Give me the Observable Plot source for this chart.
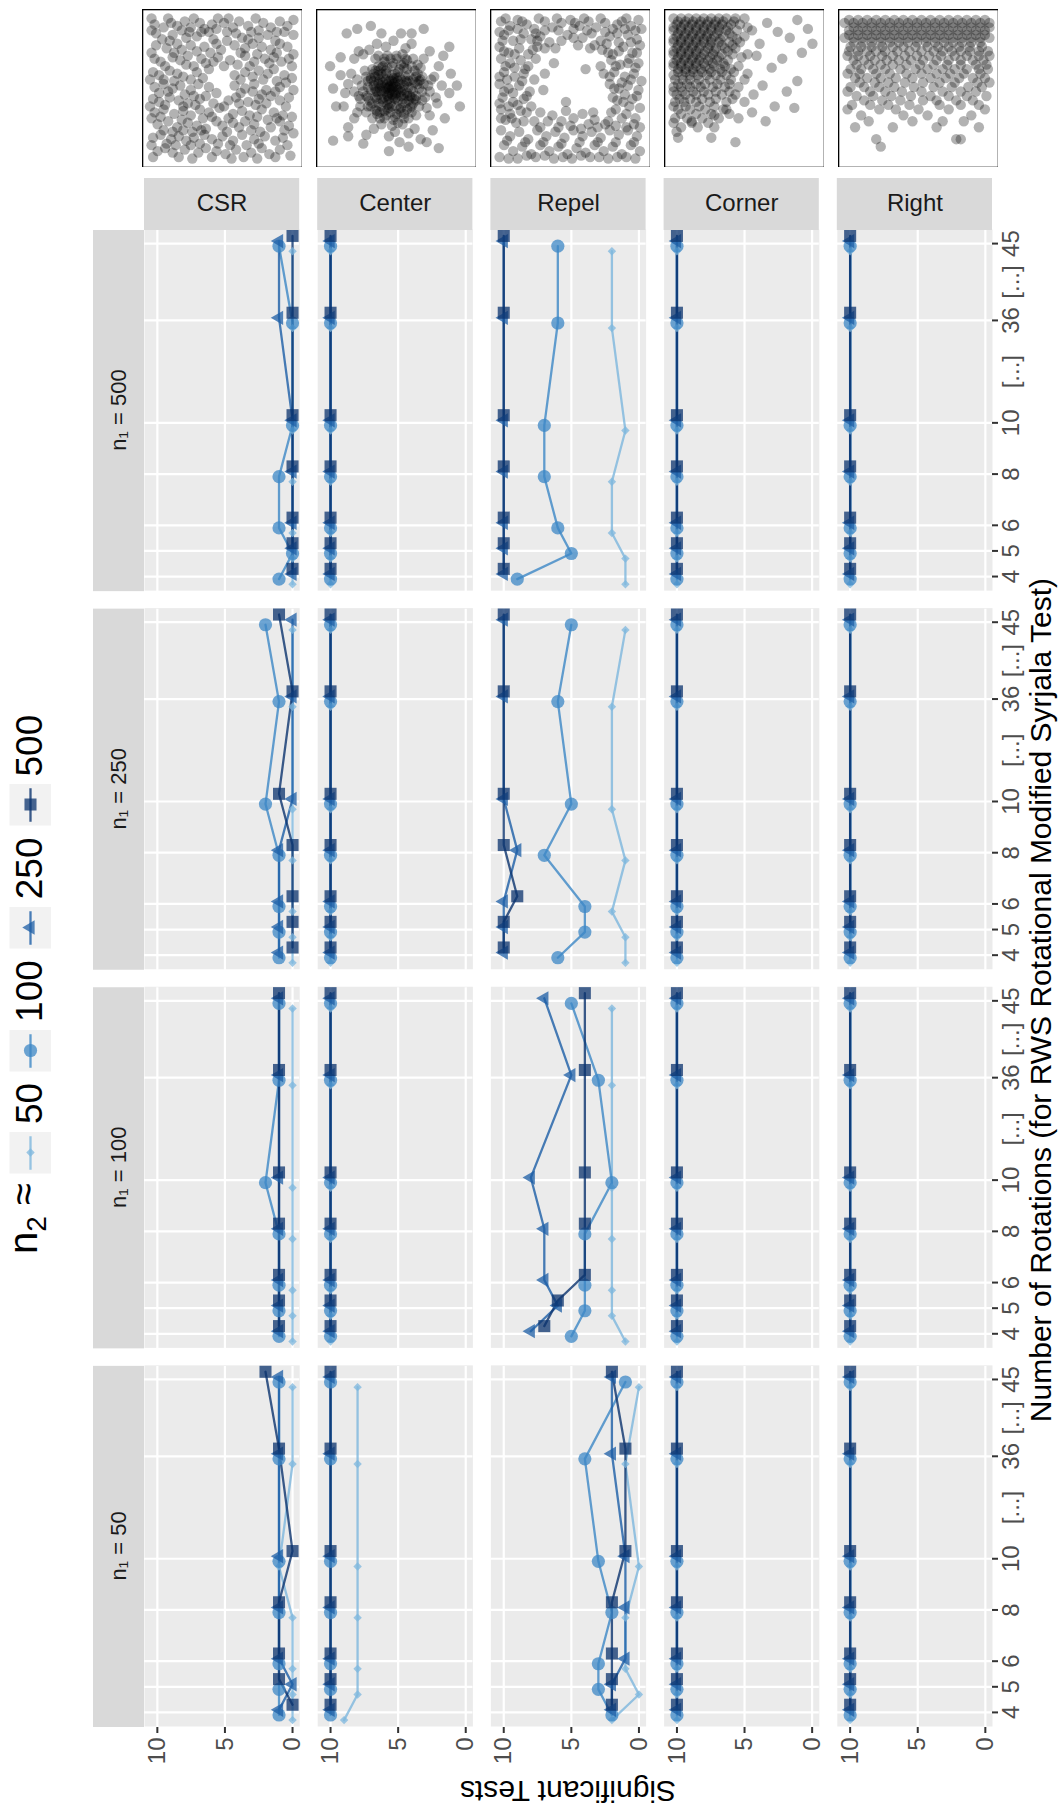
<!DOCTYPE html>
<html><head><meta charset="utf-8">
<script src="https://cdn.jsdelivr.net/npm/d3@7"></script>
<script src="https://cdn.jsdelivr.net/npm/@observablehq/plot@0.6"></script>
<style>
body{margin:0;background:#fff;font-family:"Liberation Sans",Arial,Helvetica,sans-serif;}
#page{position:relative;width:1059px;height:1810px;overflow:hidden;background:#fff;}
#rot{position:absolute;left:0;top:0;width:1810px;height:1059px;transform-origin:0 0;transform:translate(0px,1810px) rotate(-90deg);}
.abs{position:absolute;white-space:nowrap;}
</style></head><body>
<div id="page"><div id="rot"></div></div>
<script>
// ---------------- data ----------------
const rotations = [4, 5, 6, 8, 10, 36, 45];
const rotationLabels = ["4", "5", "6", "8", "10", "36", "45"];
const patterns = ["CSR", "Center", "Repel", "Corner", "Right"];
const n1Levels = [50, 100, 250, 500];
const n2Levels = [50, 100, 250, 500];
// each table: rows = n2 (50, 100, 250, 500), columns = rotations (4,5,6,8,10,36,45)
const CSR_50 = [[0,0,0,0,1,0,0],[1,1,1,1,1,1,1],[1,0,1,1,1,1,1],[0,1,1,1,0,1,2]];
const CSR_100 = [[0,0,0,0,0,0,0],[1,1,1,1,2,1,1],[1,1,1,1,1,1,1],[1,1,1,1,1,1,1]];
const CSR_250 = [[0,0,0,0,0,0,0],[1,1,1,1,2,1,2],[1,1,1,1,0,0,0],[0,0,0,0,1,0,1]];
const CSR_500 = [[0,0,0,0,0,0,0],[1,0,1,1,0,0,1],[0,0,0,0,0,1,1],[0,0,0,0,0,0,0]];
const Center_50 = [[9,8,8,8,8,8,8],[10,10,10,10,10,10,10],[10,10,10,10,10,10,10],[10,10,10,10,10,10,10]];
const Center_100 = [[10,10,10,10,10,10,10],[10,10,10,10,10,10,10],[10,10,10,10,10,10,10],[10,10,10,10,10,10,10]];
const Center_250 = [[10,10,10,10,10,10,10],[10,10,10,10,10,10,10],[10,10,10,10,10,10,10],[10,10,10,10,10,10,10]];
const Center_500 = [[10,10,10,10,10,10,10],[10,10,10,10,10,10,10],[10,10,10,10,10,10,10],[10,10,10,10,10,10,10]];
const Repel_50 = [[2,0,1,1,0,1,0],[2,3,3,2,3,4,1],[2,2,1,1,1,2,2],[2,2,2,2,1,1,2]];
const Repel_100 = [[1,2,2,2,2,2,2],[5,4,4,4,2,3,5],[8,6,7,7,8,5,7],[7,6,4,4,4,4,4]];
const Repel_250 = [[1,1,2,1,2,2,1],[6,4,4,7,5,6,5],[10,10,10,9,10,10,10],[10,10,9,10,10,10,10]];
const Repel_500 = [[1,1,2,2,1,2,2],[9,5,6,7,7,6,6],[10,10,10,10,10,10,10],[10,10,10,10,10,10,10]];
const Corner_50 = [[10,10,10,10,10,10,10],[10,10,10,10,10,10,10],[10,10,10,10,10,10,10],[10,10,10,10,10,10,10]];
const Corner_100 = [[10,10,10,10,10,10,10],[10,10,10,10,10,10,10],[10,10,10,10,10,10,10],[10,10,10,10,10,10,10]];
const Corner_250 = [[10,10,10,10,10,10,10],[10,10,10,10,10,10,10],[10,10,10,10,10,10,10],[10,10,10,10,10,10,10]];
const Corner_500 = [[10,10,10,10,10,10,10],[10,10,10,10,10,10,10],[10,10,10,10,10,10,10],[10,10,10,10,10,10,10]];
const Right_50 = [[10,10,10,10,10,10,10],[10,10,10,10,10,10,10],[10,10,10,10,10,10,10],[10,10,10,10,10,10,10]];
const Right_100 = [[10,10,10,10,10,10,10],[10,10,10,10,10,10,10],[10,10,10,10,10,10,10],[10,10,10,10,10,10,10]];
const Right_250 = [[10,10,10,10,10,10,10],[10,10,10,10,10,10,10],[10,10,10,10,10,10,10],[10,10,10,10,10,10,10]];
const Right_500 = [[10,10,10,10,10,10,10],[10,10,10,10,10,10,10],[10,10,10,10,10,10,10],[10,10,10,10,10,10,10]];

// thumbnail point patterns (unit square 0..100, x right, y down, as seen)
const ptsCSR = [[5,7],[11,9],[16,6],[20,8],[25,5],[29,9],[35,6],[38,10],[43,7],[51,6],[57,9],[61,5],[67,8],[77,6],[82,9],[88,5],[93,8],
[6,13],[17,14],[28,12],[33,15],[41,12],[59,13],[63,16],[69,12],[80,14],[86,12],
[6,21],[13,23],[20,20],[23,24],[29,21],[38,22],[46,20],[49,24],[58,21],[65,23],[70,20],[76,22],[82,24],[88,20],[93,22],
[5,30],[9,32],[17,29],[22,31],[27,28],[36,30],[44,32],[47,29],[55,31],[65,28],[71,32],[78,30],[84,29],[89,32],[94,30],
[4,39],[8,41],[15,38],[20,40],[24,42],[33,39],[41,37],[58,41],[65,39],[70,42],[74,38],[80,40],[84,37],[91,41],
[5,49],[11,47],[17,50],[22,48],[29,51],[34,47],[41,49],[58,48],[65,50],[71,47],[79,51],[88,49],[92,46],
[4,57],[8,59],[15,56],[21,58],[27,60],[35,57],[39,55],[54,58],[59,56],[67,59],[74,57],[82,55],[88,58],[94,56],
[5,66],[11,64],[18,67],[24,65],[29,68],[35,64],[41,66],[48,63],[57,67],[63,65],[68,68],[76,64],[84,66],[90,68],
[7,74],[14,72],[20,76],[27,73],[33,75],[39,77],[46,72],[50,75],[57,73],[61,76],[65,72],[71,74],[82,76],[88,72],[94,75],
[4,83],[9,81],[16,84],[21,82],[26,85],[31,83],[38,81],[43,84],[50,82],[57,85],[63,81],[71,84],[78,82],[85,85],[90,83],
[7,92],[12,90],[17,93],[25,91],[34,93],[39,90],[46,92],[52,94],[59,91],[69,93],[76,90],[81,94],[88,91],
[3,3],[14,3],[31,3],[47,3],[54,3],[72,3],[97,4],[3,11],[23,11],[36,12],[46,10],[53,12],[74,11],[91,12],[97,14],[10,17],[15,18],[26,16],[44,17],[53,18],[67,17],[74,16],[85,18],
[3,26],[18,26],[33,25],[42,26],[62,26],[73,27],[86,26],[97,27],[12,35],[26,34],[31,35],[39,33],[51,35],[60,34],[68,35],[81,33],[96,35],[2,44],[11,44],[18,45],[29,44],[37,43],[62,44],[77,44],[86,45],[96,43],
[8,53],[14,52],[25,54],[31,55],[46,53],[62,53],[70,52],[76,54],[85,52],[97,51],[2,62],[12,61],[24,62],[32,61],[44,60],[51,62],[61,60],[72,61],[79,60],[92,62],[3,70],[9,69],[23,71],[37,70],[43,69],[54,70],[73,69],[80,71],[86,70],[96,69],
[11,78],[17,79],[24,78],[30,79],[36,78],[53,79],[69,78],[75,79],[91,78],[97,80],[3,88],[13,87],[19,88],[29,88],[35,87],[47,87],[55,88],[66,88],[74,87],[93,88],[4,96],[21,96],[30,97],[43,96],[56,97],[64,96],[73,97],[85,96],[95,95]];
const ptsCenter = [[47,50],[44,47],[50,53],[42,52],[52,47],[46,44],[48,56],[40,48],[54,51],[45,53],[49,46],[43,44],[51,58],[38,54],[56,45],[47,41],[44,58],[53,55],[41,42],[57,53],[39,50],[50,43],[46,60],[55,48],[42,56],[48,49],[51,51],[45,49],[49,54],[43,50],
[46,48],[48,52],[44,54],[52,50],[47,45],[50,56],[41,46],[53,44],[45,57],[55,54],[43,40],[49,40],[38,46],[40,57],[54,60],[58,49],[36,50],[50,62],
[46,51],[48,47],[44,50],[50,49],[47,54],[45,45],[51,45],[42,49],[53,52],[49,57],[44,55],[40,52],[52,42],[48,43],[55,57],[41,59],[39,44],[57,46],[47,62],[43,38],[51,39],[59,55],[37,57],[56,60],[45,63],[53,66],[35,48],[61,52],[42,65],[38,41],
[35,45],[36,56],[60,50],[58,58],[40,62],[53,63],[58,41],[44,36],[52,37],[33,51],[62,46],[38,38],[57,64],[46,66],[63,55],[34,60],[41,35],[55,33],[31,45],[64,40],[50,67],[37,65],[60,62],[30,55],[48,33],[65,50],[43,68],[57,37],[36,42],[61,44],
[33,44],[32,58],[63,58],[62,38],[39,70],[55,70],[28,52],[67,52],[46,30],[50,30],[30,42],[66,44],[36,64],[60,66],[42,32],[57,31],[25,55],[71,48],[31,62],[65,62],[48,71],[54,74],[38,28],[64,34],
[35,40],[38,35],[42,30],[50,28],[56,30],[60,35],[63,42],[64,47],[62,57],[59,63],[55,67],[49,69],[42,70],[37,67],[33,62],[31,56],[31,49],[33,43],[36,38],[40,36],
[55,36],[58,45],[60,56],[52,64],[44,64],[38,60],[36,52],[38,47],[34,37],[67,58],[40,40],[56,42],[57,55],[44,61],[37,52],[53,34],[47,35],[65,45],[61,60],[39,66],
[27,48],[26,57],[68,47],[69,56],[34,70],[58,70],[29,38],[66,36],[44,28],[54,27],[24,44],[72,52],[40,74],[63,68],[30,66],[51,73],[70,63],[22,52],[36,30],[61,30],[47,75],[67,42],[26,62],[73,44],
[18,47],[8,50],[15,62],[22,70],[30,81],[45,82],[58,80],[74,78],[77,60],[80,48],[78,35],[72,25],[60,20],[48,18],[37,20],[28,27],[13,29],[25,25],[40,13],[53,13],[60,13],[81,28],[86,40],[85,53],[8,85],[18,76],[18,82],[33,8],[17,13],[66,84],[52,86],
[20,40],[16,53],[24,66],[35,77],[49,79],[62,77],[72,68],[76,56],[75,42],[68,30],[56,23],[43,22],[32,24],[22,30],[13,41],[10,62],[28,87],[58,89],[70,86],[82,70],[90,48],[85,22],[68,10],[24,10],[6,35],[45,92],[78,90],[92,62]];
const ptsRepel = [[4,5],[10,8],[15,4],[21,7],[26,10],[33,5],[38,9],[44,6],[50,4],[56,8],[62,5],[67,9],[73,6],[78,10],[84,5],[90,8],[95,4],
[6,14],[12,18],[19,13],[24,17],[30,15],[36,19],[48,14],[58,16],[64,13],[70,18],[76,15],[82,19],[88,14],[94,17],
[3,22],[9,26],[16,23],[22,27],[28,22],[71,24],[78,27],[85,22],[91,26],[96,21],[40,23],[55,21],
[4,30],[10,33],[17,31],[22,35],[6,39],[13,42],[19,40],[3,47],[9,50],[16,48],[23,52],[5,56],[12,59],[19,57],[4,64],[10,67],[17,65],[24,62],[7,71],[14,73],[26,44],
[77,31],[83,34],[89,30],[95,33],[79,39],[86,42],[92,40],[76,47],[82,50],[88,48],[95,51],[78,56],[85,59],[91,57],[96,63],[80,64],[87,67],[93,70],[75,72],[72,40],
[4,78],[10,82],[16,79],[22,84],[28,78],[34,82],[40,79],[46,83],[52,78],[58,82],[64,79],[70,83],[76,78],[82,81],[88,78],[94,82],
[6,88],[12,92],[18,89],[24,94],[30,88],[36,92],[42,89],[48,94],[54,90],[60,93],[66,88],[72,92],[78,89],[84,94],[90,88],[96,92],
[3,96],[15,97],[27,96],[39,97],[51,97],[63,96],[75,97],[87,96],
[47,59],[47,65],[60,37],[70,35],[32,51],[39,33],[33,40],[30,66],[65,66],[35,72],[62,74],[27,30],[38,68],[44,72],[52,70],[58,67],[66,71],
[7,3],[18,5],[29,3],[41,3],[53,6],[59,3],[70,3],[81,7],[87,3],[93,11],[3,12],[9,11],[15,10],[27,13],[33,11],[42,11],[52,10],[61,11],[73,12],[86,10],[97,10],[5,18],[17,17],[28,18],[44,18],[52,16],[66,21],[74,20],[81,13],[90,19],
[6,25],[13,27],[25,24],[33,23],[63,23],[75,26],[82,25],[94,26],[88,33],[80,35],[93,36],[76,42],[84,46],[90,44],[97,45],[79,50],[86,54],[94,55],[81,58],[89,62],[77,66],[84,70],[92,74],
[7,35],[13,36],[20,37],[3,42],[8,44],[18,45],[6,52],[12,53],[21,55],[3,60],[9,62],[15,61],[21,66],[4,70],[11,70],[19,72],[26,72],[30,76],[42,76],[50,75],[57,77],[68,76],[73,74],[80,75],[87,76],[96,76],
[8,85],[20,86],[32,86],[44,87],[56,86],[68,86],[80,86],[92,86],[9,97],[21,95],[33,95],[45,96],[57,95],[69,96],[81,96],[93,97]];
const rowsCorner = [[3,[3,8,13,18,23,28,33,38,44,50]],[7,[5,10,15,20,25,30,35,41,47]],[11,[3,8,13,18,23,28,33,38,45,55]],[15,[5,10,15,20,25,30,36,42,50]],
[19,[3,8,13,18,23,28,33,40,47]],[23,[5,10,15,20,26,31,37,44]],[27,[3,8,13,18,23,29,35,42,52]],[31,[5,10,15,20,26,32,39]],[35,[3,8,13,18,24,30,37,46]],
[39,[6,11,16,22,28,35,43]],[44,[4,9,14,20,27,34,41,50]],[49,[3,8,14,21,29,37,46]],[54,[5,11,18,26,35,44,56]],[59,[4,10,18,27,38,50]],[64,[6,14,24,36]],
[70,[4,12,22,33,46]],[76,[8,19,30]],[83,[6,28]],
[5,[6,11,16,21,26,31,36,43]],[9,[3,8,13,18,23,28,33,39,52]],[13,[6,11,16,21,26,32,40]],[17,[3,8,13,18,23,28,34,45]],[21,[6,11,16,21,27,35,42]],[25,[3,8,13,18,24,30,39]],
[29,[6,11,16,21,27,33,48]],[33,[3,8,13,18,23,29,36]],[37,[6,11,16,21,27,34,41]],[41,[3,9,14,19,25,31,38]],[47,[6,12,18,24,32,40]],[52,[3,9,16,23,31,40]],
[57,[7,14,22,31,42]],[62,[3,11,20,30]],[67,[8,18,28,40]],[73,[3,15,26]]];
const ptsCornerExtra = [[65,6],[72,12],[85,4],[92,10],[80,16],[60,20],[88,26],[75,30],[68,36],[85,45],[78,52],[62,48],[83,63],[70,62],[55,66],[64,72],[44,86],[5,79],[15,72],[30,68],[38,64],[52,40],[58,28],[95,20]];
const rowsRight = [[4,[4,10,16,22,28,34,40,46,52,58,64,70,76,82,88,94]],[9,[7,13,19,25,31,37,43,49,55,61,67,73,79,85,91,97]],[14,[4,10,16,22,28,34,40,46,52,58,64,70,76,82,88,94]],
[19,[7,13,19,25,31,37,43,49,55,61,67,73,79,85,91]],[25,[4,10,16,22,28,36,44,52,60,66,72,78,84,90,96]],[31,[7,14,21,29,37,45,53,62,70,78,86,93]],
[37,[5,12,20,28,38,48,56,66,74,82,90,96]],[43,[8,16,25,35,46,58,68,77,86,94]],[49,[5,14,24,34,47,60,72,83,92]],[55,[9,20,32,45,58,70,82,95]],
[61,[6,18,30,44,64,78,90]],[68,[12,40,56,85]],[76,[8,33,62,90]],[84,[22,75,78]],[89,[25]],
[6,[1,7,13,19,25,31,37,43,49,55,61,67,73,79,85,91,97]],[11,[4,10,16,22,28,34,40,46,52,58,64,70,76,82,88,94]],[16,[1,7,13,19,25,31,37,43,49,55,61,67,73,79,85,91,97]],
[22,[5,12,19,26,33,40,48,56,63,70,77,84,92]],[28,[3,10,18,26,33,41,49,57,65,74,82,90,97]],[34,[9,17,25,33,42,51,60,69,78,88,95]],[40,[3,11,22,31,42,52,62,71,80,91]],
[46,[11,21,30,41,53,64,74,89,97]],[52,[3,18,28,39,52,66,78,88]],[58,[14,26,38,53,62,75,86]],[64,[3,24,35,50,70,94]],[72,[17,46,66,80]]];

// ---------------- styling / layout ----------------
const n2Colors = ["#7DB7DD", "#3C87C5", "#1C5EA6", "#0B336E"];
const n2Symbols = ["diamond2", "circle", "triangle", "square"];
const n2Radius = {50: 3.8, 100: 6.6, 250: 5.3, 500: 6.8};
const slotOf = {4: 4, 5: 5, 6: 6, 8: 8, 10: 10, 36: 14, 45: 17}; // broken axis layout
const gapSlots = [12, 15.5];
const dodge = {50: -0.3, 100: -0.1, 250: 0.1, 500: 0.3};
const FONT = '"Liberation Sans", Arial, Helvetica, sans-serif';

const W0 = 1810, H0 = 1059;            // un-rotated figure size
const mL = 83, mR = 230, mT = 144, mB = 67;
const gapX = 17.5, gapY = 18, stripTopH = 51, stripRightW = 52;
const panelW = (W0 - mL - mR - 3 * gapX) / 4;
const panelH = (H0 - mT - mB - 4 * gapY) / 5;

const tables = {
  CSR: {50: CSR_50, 100: CSR_100, 250: CSR_250, 500: CSR_500},
  Center: {50: Center_50, 100: Center_100, 250: Center_250, 500: Center_500},
  Repel: {50: Repel_50, 100: Repel_100, 250: Repel_250, 500: Repel_500},
  Corner: {50: Corner_50, 100: Corner_100, 250: Corner_250, 500: Corner_500},
  Right: {50: Right_50, 100: Right_100, 250: Right_250, 500: Right_500}
};
const data = [];
n2Levels.forEach((n2, i) => {
  for (const p of patterns) for (const n1 of n1Levels) {
    rotations.forEach((r, j) => data.push({pattern: p, n1, n2, rotation: r, tests: tables[p][n1][i][j]}));
  }
});
const xPos = d => slotOf[d.rotation] + dodge[d.n2];
const tickSlots = rotations.map(r => slotOf[r]);
const labelOfSlot = new Map(rotations.map((r, i) => [slotOf[r], rotationLabels[i]]));

const chart = Plot.plot({
  width: W0, height: H0,
  marginLeft: mL, marginRight: mR, marginTop: mT, marginBottom: mB,
  style: {fontFamily: FONT, background: "transparent", overflow: "visible"},
  fx: {domain: n1Levels, paddingInner: gapX / (panelW + gapX), paddingOuter: 0, round: false, axis: null, label: null},
  fy: {domain: patterns, paddingInner: gapY / (panelH + gapY), paddingOuter: 0, round: false, axis: null, label: null},
  x: {domain: [3.45, 17.55]},
  y: {domain: [-0.53, 10.95]},
  color: {domain: n2Levels, range: n2Colors},
  symbol: {domain: n2Levels, range: n2Symbols},
  marks: [
    Plot.frame({fill: "#EBEBEB", stroke: "none"}),
    Plot.gridX(tickSlots, {stroke: "#FFFFFF", strokeOpacity: 1, strokeWidth: 2.2}),
    Plot.gridY([0, 5, 10], {stroke: "#FFFFFF", strokeOpacity: 1, strokeWidth: 2.2}),
    Plot.line(data, {fx: "n1", fy: "pattern", x: xPos, y: "tests", z: "n2", stroke: "n2", strokeWidth: 2.3, strokeOpacity: 0.8}),
    ...n2Levels.map(n2 => Plot.dot(data.filter(d => d.n2 === n2), {
      fx: "n1", fy: "pattern", x: xPos, y: "tests", symbol: "n2", fill: "n2",
      r: n2Radius[n2], fillOpacity: 0.75, stroke: "none"
    })),
    Plot.axisX(tickSlots, {facetAnchor: "bottom", tickFormat: v => labelOfSlot.get(v), tickSize: 6, tickPadding: 3,
      fontSize: 24, fill: "#4D4D4D", stroke: "#333333", strokeWidth: 2, label: null}),
    Plot.axisX(gapSlots, {facetAnchor: "bottom", tickFormat: () => "[...]", tickSize: 0, tickPadding: 9,
      fontSize: 24, fill: "#4D4D4D", label: null}),
    Plot.axisY([0, 5, 10], {facetAnchor: "left", tickSize: 6, tickPadding: 5, fontSize: 24,
      fill: "#4D4D4D", stroke: "#333333", strokeWidth: 2, label: null}),
    // top strips (n1)
    Plot.rect(n1Levels, {fx: d => d, fy: () => patterns[0], insetTop: -stripTopH, insetBottom: panelH, fill: "#D9D9D9"}),
    Plot.text(n1Levels, {fx: d => d, fy: () => patterns[0], frameAnchor: "top", dy: -stripTopH / 2,
      text: d => `n\u2081 = ${d}`, fontSize: 22, fill: "#1A1A1A", lineAnchor: "middle", textAnchor: "middle"}),
    // right strips (pattern)
    Plot.rect(patterns, {fx: () => n1Levels[3], fy: d => d, insetLeft: panelW, insetRight: -stripRightW, fill: "#D9D9D9"}),
    Plot.text(patterns, {fx: () => n1Levels[3], fy: d => d, frameAnchor: "right", dx: stripRightW / 2, rotate: 90,
      text: d => d, fontSize: 24, fill: "#1A1A1A", lineAnchor: "middle", textAnchor: "middle"})
  ]
});
chart.style.position = "absolute";
chart.style.left = "0px";
chart.style.top = "0px";
const rot = document.getElementById("rot");
rot.appendChild(chart);

// axis titles (un-rotated figure coordinates), as SVG text
const over = d3.create("svg").attr("width", W0).attr("height", H0)
  .style("position", "absolute").style("left", "0px").style("top", "0px").style("overflow", "visible");
over.append("text").attr("x", 810).attr("y", 1051).attr("text-anchor", "middle")
  .attr("font-family", FONT).attr("font-size", 30).attr("fill", "#000")
  .text("Number of Rotations (for RWS Rotational Modified Syrjala Test)");
over.append("text").attr("transform", `translate(29,${(mT + H0 - mB) / 2}) rotate(-90)`).attr("text-anchor", "middle")
  .attr("font-family", FONT).attr("font-size", 30).attr("fill", "#000")
  .text("Significant Tests");
rot.appendChild(over.node());

// legend (top of un-rotated figure)
const legend = document.createElement("div");
legend.className = "abs";
Object.assign(legend.style, {left: "556px", top: "9px", height: "42px", display: "flex", alignItems: "center", fontFamily: FONT});
const lt = document.createElement("span");
lt.innerHTML = "n<sub style='font-size:70%'>2</sub> \u2248";
Object.assign(lt.style, {fontSize: "40px", marginRight: "9px", color: "#000", lineHeight: "42px"});
legend.appendChild(lt);
n2Levels.forEach((n2, i) => {
  const key = Plot.plot({
    width: 42, height: 42, margin: 0,
    x: {domain: [0, 1], axis: null}, y: {domain: [0, 1], axis: null},
    color: {domain: n2Levels, range: n2Colors},
    symbol: {domain: n2Levels, range: n2Symbols},
    marks: [
      Plot.frame({fill: "#F2F2F2", stroke: "none"}),
      Plot.ruleY([n2], {y: () => 0.5, x1: 0.1, x2: 0.9, stroke: d => d, strokeWidth: 2.3, strokeOpacity: 0.8}),
      Plot.dot([n2], {x: () => 0.5, y: () => 0.5, symbol: d => d, fill: d => d, r: n2Radius[n2], fillOpacity: 0.75, stroke: "none"})
    ]
  });
  key.style.flex = "none";
  legend.appendChild(key);
  const lab = document.createElement("span");
  lab.textContent = String(n2);
  Object.assign(lab.style, {fontSize: "37px", marginLeft: "8px", marginRight: i < 3 ? "11px" : "0px", color: "#000", lineHeight: "42px"});
  legend.appendChild(lab);
});
rot.appendChild(legend);

// thumbnails (drawn in final page orientation, above the pattern strips)
const page = document.getElementById("page");
const thumbData = [
  ptsCSR, ptsCenter, ptsRepel,
  rowsCorner.flatMap(([v, us]) => us.map(u => [u, v])).concat(ptsCornerExtra),
  rowsRight.flatMap(([v, us]) => us.map(u => [u, v]))
];
thumbData.forEach((pts, i) => {
  const t = Plot.plot({
    width: 160, height: 158, margin: 0,
    x: {domain: [-3, 103], axis: null}, y: {domain: [-3, 103], reverse: true, axis: null},
    marks: [
      Plot.frame({fill: "#FFFFFF", stroke: "none"}),
      Plot.dot(pts, {x: d => d[0], y: d => d[1], r: 5.2, fill: "#000", fillOpacity: 0.3, stroke: "none"}),
      Plot.frame({stroke: "#000", strokeWidth: 1.6})
    ]
  });
  Object.assign(t.style, {position: "absolute", left: (142 + i * 174) + "px", top: "9px"});
  page.appendChild(t);
});
</script>
</body></html>
